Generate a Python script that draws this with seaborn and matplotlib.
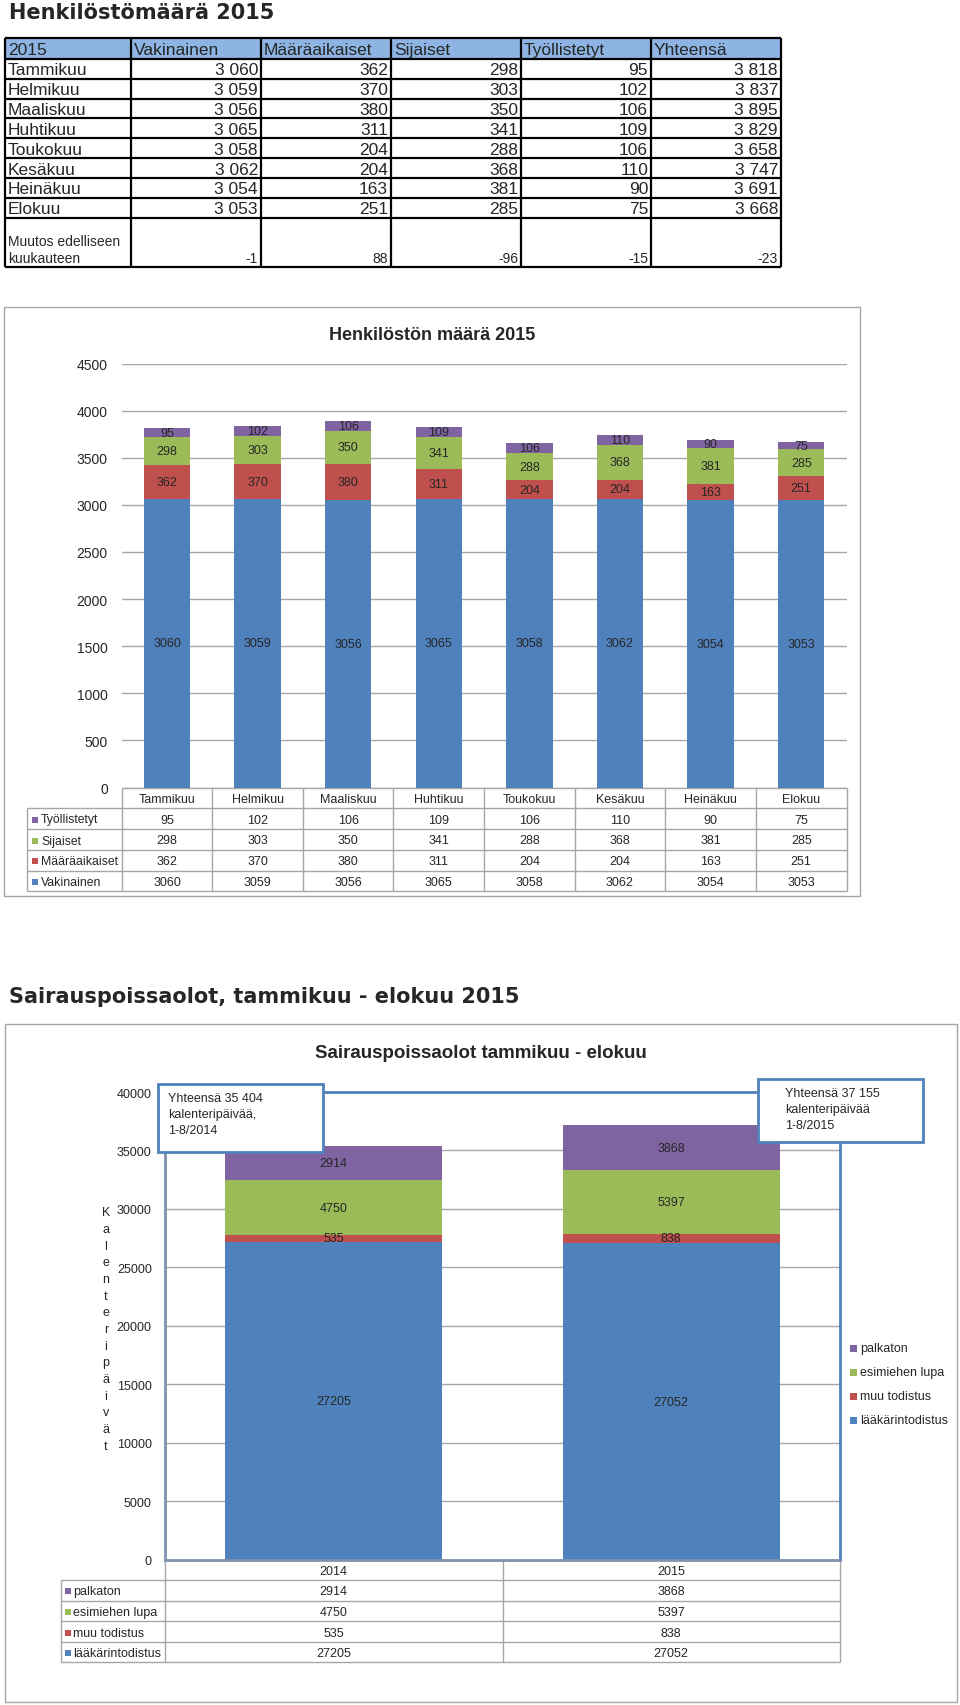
import numpy as np
import pandas as pd
import matplotlib
matplotlib.use("Agg")
import matplotlib.pyplot as plt
from matplotlib.patches import Rectangle
import seaborn as sns

# staff counts 2015
months = ["Tammikuu", "Helmikuu", "Maaliskuu", "Huhtikuu", "Toukokuu",
          "Kesäkuu", "Heinäkuu", "Elokuu"]
vakinainen = [3060, 3059, 3056, 3065, 3058, 3062, 3054, 3053]
maaraaikaiset = [362, 370, 380, 311, 204, 204, 163, 251]
sijaiset = [298, 303, 350, 341, 288, 368, 381, 285]
tyollistetyt = [95, 102, 106, 109, 106, 110, 90, 75]
yhteensa = [3818, 3837, 3895, 3829, 3658, 3747, 3691, 3668]
muutos = [-1, 88, -96, -15, -23]
table_head = ["2015", "Vakinainen", "Määräaikaiset", "Sijaiset", "Työllistetyt", "Yhteensä"]

# sick leave days 1-8 / year
years = ["2014", "2015"]
laakarintodistus = [27205, 27052]
muu_todistus = [535, 838]
esimiehen_lupa = [4750, 5397]
palkaton = [2914, 3868]
callouts = ["Yhteensä 35 404\nkalenteripäivää,\n1-8/2014",
            "Yhteensä 37 155\nkalenteripäivää\n1-8/2015"]

BLUE, RED, GREEN, PURPLE = "#4F81BD", "#C0504D", "#9BBB59", "#8064A2"
GRID = "#A6A6A6"

sns.set_style("white")
plt.rcParams["font.family"] = ["Liberation Sans", "DejaVu Sans"]

W, H = 960, 1706
fig = plt.figure(figsize=(W / 100, H / 100), dpi=100)


def rect(x0, y0, x1, y1):
    return [x0 / W, 1 - y1 / H, (x1 - x0) / W, (y1 - y0) / H]


page = fig.add_axes([0, 0, 1, 1])
page.set_xlim(0, W)
page.set_ylim(H, 0)
page.axis("off")


def hline(ax, y, x0, x1, **kw):
    ax.plot([x0, x1], [y, y], solid_capstyle="butt", **kw)


def vline(ax, x, y0, y1, **kw):
    ax.plot([x, x], [y0, y1], solid_capstyle="butt", **kw)


def fmt(v):
    return f"{v:,}".replace(",", " ")


# ---------------- top table ----------------
page.text(9, 13, "Henkilöstömäärä 2015", fontsize=15, fontweight="bold", va="center",
          family="DejaVu Sans")
cols = [5, 131, 261, 391, 521, 651, 781]
rows = [39, 59.5, 79.5, 99.5, 119.3, 139.2, 159.1, 179, 198.9, 218.7, 268]
page.add_patch(Rectangle((cols[0], rows[0]), cols[-1] - cols[0], rows[1] - rows[0],
                         fc="#8DB4E2", ec="none"))
for y in rows:
    hline(page, y, cols[0], cols[-1], color="black", lw=1.6)
for x in cols:
    vline(page, x, rows[0], rows[-1], color="black", lw=1.6)
for j, t in enumerate(table_head):
    page.text(cols[j] + 3, (rows[0] + rows[1]) / 2 + 1, t, fontsize=12.5, va="center")
table_vals = [vakinainen, maaraaikaiset, sijaiset, tyollistetyt, yhteensa]
for i, m in enumerate(months):
    yc = (rows[i + 1] + rows[i + 2]) / 2 + 1
    page.text(cols[0] + 3, yc, m, fontsize=12.5, va="center")
    for j, vals in enumerate(table_vals):
        page.text(cols[j + 2] - 3, yc, fmt(vals[i]), fontsize=12.5, va="center", ha="right")
page.text(cols[0] + 3, 242, "Muutos edelliseen", fontsize=10, va="center")
page.text(cols[0] + 3, 259, "kuukauteen", fontsize=10, va="center")
for j, v in enumerate(muutos):
    page.text(cols[j + 2] - 3, 259, str(v), fontsize=10, va="center", ha="right")

# ---------------- chart 1 ----------------
page.add_patch(Rectangle((4, 308), 856, 589, fill=False, ec=GRID, lw=1))
page.text(432, 335, "Henkilöstön määrä 2015", fontsize=13, fontweight="bold",
          ha="center", va="center")

L1, R1, T1, B1 = 121.7, 846.5, 364.5, 788.5
ax1 = fig.add_axes(rect(L1, T1, R1, B1))
ax1.patch.set_alpha(0)
staff = pd.DataFrame({"Kuukausi": months, "Vakinainen": vakinainen,
                      "Määräaikaiset": maaraaikaiset, "Sijaiset": sijaiset,
                      "Työllistetyt": tyollistetyt})
series1 = ["Vakinainen", "Määräaikaiset", "Sijaiset", "Työllistetyt"]
colors1 = [BLUE, RED, GREEN, PURPLE]
cum1 = staff[series1].cumsum(axis=1)
for s, c in reversed(list(zip(series1, colors1))):
    sns.barplot(x=staff["Kuukausi"], y=cum1[s], color=c, width=0.51, saturation=1,
                errorbar=None, linewidth=0, ax=ax1)
for i in range(len(months)):
    base = 0
    for s in series1:
        v = staff[s][i]
        ax1.text(i, base + v / 2, str(v), ha="center", va="center", fontsize=9)
        base += v
ax1.set_xlim(-0.5, len(months) - 0.5)
ax1.set_ylim(0, 4500)
ax1.set_yticks(np.arange(0, 4501, 500))
ax1.yaxis.grid(True, color=GRID, lw=1)
ax1.set_axisbelow(True)
for sp in ax1.spines.values():
    sp.set_visible(False)
ax1.tick_params(axis="y", length=0, pad=10, labelsize=10)
ax1.tick_params(axis="x", length=0, labelbottom=False)
ax1.set_xlabel("")
ax1.set_ylabel("")

# data table under chart 1
colw1 = (R1 - L1) / len(months)
trows1 = [B1, 809, 830, 851, 871.5, 892]
lab_left1 = 26.7
hline(page, B1, L1, R1, color=GRID, lw=1)
for y in trows1[1:]:
    hline(page, y, lab_left1, R1, color=GRID, lw=1)
vline(page, lab_left1, trows1[1], trows1[-1], color=GRID, lw=1)
for k in range(len(months) + 1):
    vline(page, L1 + k * colw1, B1, trows1[-1], color=GRID, lw=1)
for i, m in enumerate(months):
    page.text(L1 + (i + 0.5) * colw1, (trows1[0] + trows1[1]) / 2 + 1, m,
              fontsize=9, ha="center", va="center")
for r, (s, c) in enumerate(reversed(list(zip(series1, colors1)))):
    yc = (trows1[r + 1] + trows1[r + 2]) / 2 + 1
    page.add_patch(Rectangle((31.5, yc - 3), 6, 6, fc=c, ec="none"))
    page.text(41, yc, s, fontsize=8.8, va="center")
    for i in range(len(months)):
        page.text(L1 + (i + 0.5) * colw1, yc, str(staff[s][i]), fontsize=9,
                  ha="center", va="center")

# ---------------- chart 2 ----------------
page.text(9, 997, "Sairauspoissaolot, tammikuu - elokuu 2015", fontsize=15,
          fontweight="bold", va="center", family="DejaVu Sans")
page.add_patch(Rectangle((5, 1025), 952, 678, fill=False, ec=GRID, lw=1))
page.text(481, 1053, "Sairauspoissaolot tammikuu - elokuu", fontsize=13.5,
          fontweight="bold", ha="center", va="center")

L2, R2, T2, B2 = 165, 840, 1093, 1560.7
ax2 = fig.add_axes(rect(L2, T2, R2, B2))
ax2.patch.set_alpha(0)
sick = pd.DataFrame({"Vuosi": years, "lääkärintodistus": laakarintodistus,
                     "muu todistus": muu_todistus, "esimiehen lupa": esimiehen_lupa,
                     "palkaton": palkaton})
series2 = ["lääkärintodistus", "muu todistus", "esimiehen lupa", "palkaton"]
colors2 = [BLUE, RED, GREEN, PURPLE]
cum2 = sick[series2].cumsum(axis=1)
for s, c in reversed(list(zip(series2, colors2))):
    sns.barplot(x=sick["Vuosi"], y=cum2[s], color=c, width=0.643, saturation=1,
                errorbar=None, linewidth=0, ax=ax2)
for i in range(len(years)):
    base = 0
    for s in series2:
        v = sick[s][i]
        ax2.text(i, base + v / 2, str(v), ha="center", va="center", fontsize=9)
        base += v
ax2.set_xlim(-0.5, len(years) - 0.5)
ax2.set_ylim(0, 40000)
ax2.set_yticks(np.arange(0, 40001, 5000))
ax2.yaxis.grid(True, color=GRID, lw=1)
ax2.set_axisbelow(True)
for side, sp in ax2.spines.items():
    sp.set_color(BLUE if side in ("top", "right") else "#7F93AD")
    sp.set_linewidth(2)
ax2.tick_params(axis="y", length=0, pad=9.5, labelsize=9)
ax2.tick_params(axis="x", length=0, labelbottom=False)
ax2.set_xlabel("")
ax2.set_ylabel("")

page.text(106, 1330, "\n".join("Kalenteripäivät"), fontsize=9, ha="center",
          va="center", linespacing=1.52)

# legend
for k, (s, c) in enumerate(reversed(list(zip(series2, colors2)))):
    yc = 1349 + k * 24
    page.add_patch(Rectangle((850, yc - 3.5), 7, 7, fc=c, ec="none"))
    page.text(860, yc, s, fontsize=9, va="center")

# data table under chart 2
colw2 = (R2 - L2) / len(years)
trows2 = [B2, 1581, 1601.7, 1622.3, 1643, 1663.3]
lab_left2 = 60.7
for y in trows2[1:]:
    hline(page, y, lab_left2, R2, color=GRID, lw=1)
vline(page, lab_left2, trows2[1], trows2[-1], color=GRID, lw=1)
for k in range(len(years) + 1):
    vline(page, L2 + k * colw2, B2, trows2[-1], color=GRID, lw=1)
for i, yname in enumerate(years):
    page.text(L2 + (i + 0.5) * colw2, (trows2[0] + trows2[1]) / 2 + 1, yname,
              fontsize=9, ha="center", va="center")
for r, (s, c) in enumerate(reversed(list(zip(series2, colors2)))):
    yc = (trows2[r + 1] + trows2[r + 2]) / 2 + 1
    page.add_patch(Rectangle((65, yc - 3), 6, 6, fc=c, ec="none"))
    page.text(73, yc, s, fontsize=9, va="center")
    for i in range(len(years)):
        page.text(L2 + (i + 0.5) * colw2, yc, str(sick[s][i]), fontsize=9,
                  ha="center", va="center")

# callout boxes on top
top = fig.add_axes([0, 0, 1, 1], zorder=5)
top.set_xlim(0, W)
top.set_ylim(H, 0)
top.axis("off")
boxes = [(158, 1085, 323, 1153, 168, 1093), (758, 1080, 923, 1143, 785, 1088)]
for (x0, y0, x1, y1, tx, ty), txt in zip(boxes, callouts):
    top.add_patch(Rectangle((x0, y0), x1 - x0, y1 - y0, fc="white", ec=BLUE, lw=2))
    top.text(tx, ty, txt, fontsize=9, va="top", ha="left", linespacing=1.45)

fig.savefig("out.png", dpi=100)
